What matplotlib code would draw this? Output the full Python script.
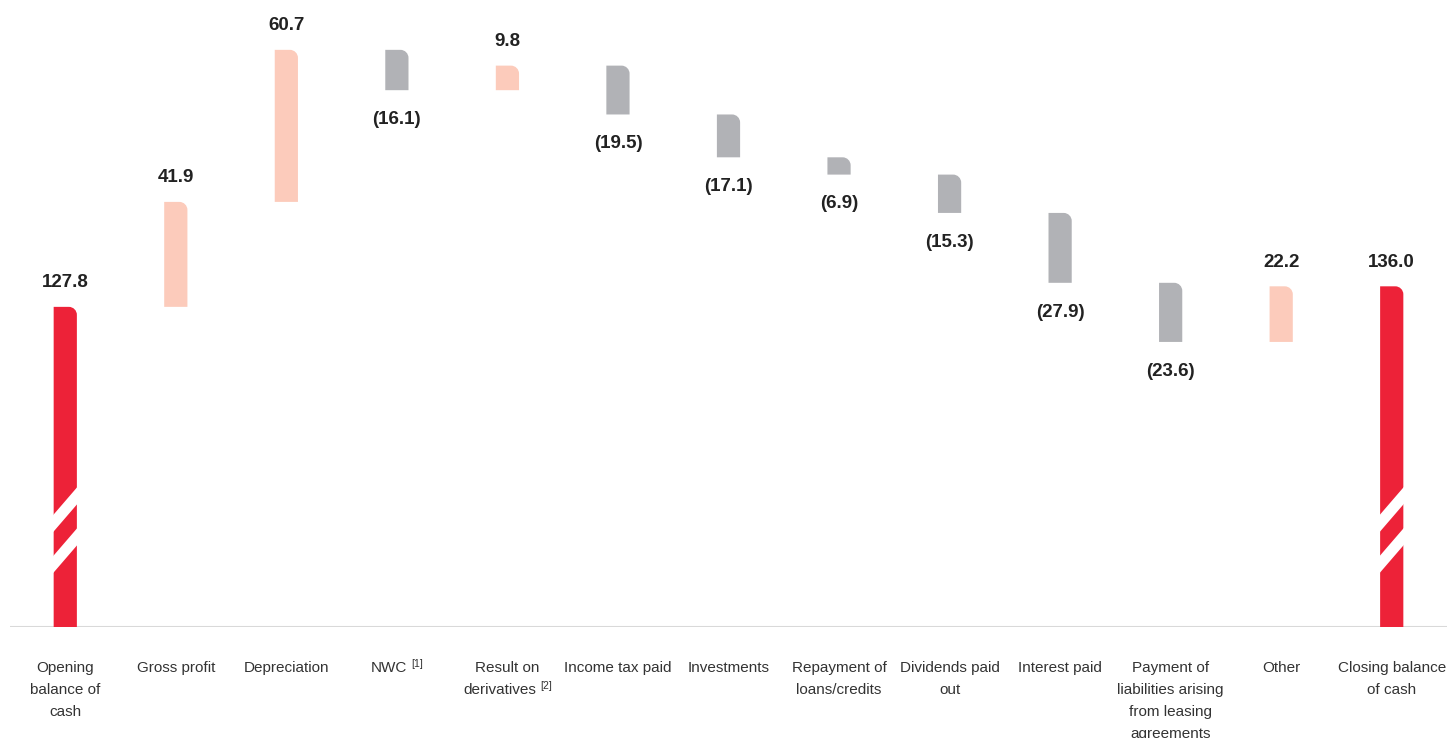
import numpy as np
import matplotlib
matplotlib.use("Agg")
import matplotlib.pyplot as plt
from matplotlib.path import Path
from matplotlib.patches import PathPatch, Polygon

plt.rcParams['font.family'] = ['Liberation Sans', 'DejaVu Sans']

# datos
categorias = ["Opening\nbalance of\ncash", "Gross profit", "Depreciation", "NWC",
              "Result on\nderivatives", "Income tax paid", "Investments",
              "Repayment of\nloans/credits", "Dividends paid\nout", "Interest paid",
              "Payment of\nliabilities arising\nfrom leasing\nagreements",
              "Other", "Closing balance\nof cash"]
notas = [None, None, None, "[1]", "[2]", None, None, None, None, None, None, None, None]
valores = [127.8, 41.9, 60.7, -16.1, 9.8, -19.5, -17.1, -6.9, -15.3, -27.9, -23.6, 22.2, 136.0]
etiquetas = ["127.8", "41.9", "60.7", "(16.1)", "9.8", "(19.5)", "(17.1)", "(6.9)",
             "(15.3)", "(27.9)", "(23.6)", "22.2", "136.0"]
es_total = [True] + [False] * 11 + [True]

ROJO = "#ED2238"
ROSA = "#FCCBBB"
GRIS = "#B1B2B6"
TEXTO = "#222222"
TEXTO_CAT = "#333333"

DPI = 100
fig = plt.figure(figsize=(14.47, 7.38), dpi=DPI)
ax = fig.add_axes([10 / 1447, 111 / 738, 1437 / 1447, 627 / 738])
ax.set_xlim(-0.5, 12.5)
ax.set_ylim(0, 250.3)
ax.axis("off")
renderer = fig.canvas.get_renderer()

ancho = 0.21
radio_px = 8

def px2pt(px):
    return px * 72 / DPI

def escala():
    p0 = ax.transData.transform((0, 0))
    p1 = ax.transData.transform((1, 1))
    return p1[0] - p0[0], p1[1] - p0[1]

sx, sy = escala()
rx, ry = radio_px / sx, radio_px / sy

def barra_redondeada(x, abajo, arriba, color):
    izq, der = x - ancho / 2, x + ancho / 2
    k = 0.5523
    r_y = min(ry, (arriba - abajo))
    verts = [(izq, abajo), (der, abajo), (der, arriba - r_y),
             (der, arriba - r_y + k * r_y), (der - rx + k * rx, arriba), (der - rx, arriba),
             (izq, arriba), (izq, abajo)]
    codes = [Path.MOVETO, Path.LINETO, Path.LINETO,
             Path.CURVE4, Path.CURVE4, Path.CURVE4,
             Path.LINETO, Path.CLOSEPOLY]
    ax.add_patch(PathPatch(Path(verts, codes), facecolor=color, edgecolor="none", zorder=2))

def marcas_corte(x):
    izq, der = x - ancho / 2 - 0.01, x + ancho / 2 + 0.01
    for lo in (95, 54):
        a, b = lo / sy, (lo + 17) / sy
        d = 28 / sy
        ax.add_patch(Polygon([(izq, a - 0.3), (der, a + d + 0.3), (der, b + d + 0.3), (izq, b - 0.3)],
                             closed=True, facecolor="white", edgecolor="none", zorder=3))

def etiqueta_categoria(i, texto, nota):
    lineas = texto.split("\n")
    for j, linea in enumerate(lineas):
        dy = px2pt(-45 - 22 * j)
        kw = dict(textcoords="offset points", va="baseline", fontsize=11,
                  color=TEXTO_CAT, annotation_clip=False)
        if nota is not None and j == len(lineas) - 1:
            t = ax.annotate(linea, (i, 0), xytext=(0, dy), ha="left", **kw)
            s = ax.annotate(nota, (i, 0), xytext=(0, dy + px2pt(5)), ha="left",
                            textcoords="offset points", va="baseline", fontsize=7.5,
                            color=TEXTO_CAT, annotation_clip=False)
            w1 = t.get_window_extent(renderer).width
            w2 = s.get_window_extent(renderer).width
            gap = 4
            total = w1 + gap + w2
            t.set_position((px2pt(-total / 2), dy))
            s.set_position((px2pt(-total / 2 + w1 + gap), dy + px2pt(5)))
        else:
            ax.annotate(linea, (i, 0), xytext=(0, dy), ha="center", **kw)

acum = 0
for i, v in enumerate(valores):
    if es_total[i]:
        abajo, arriba = 0, v
        color = ROJO
        acum = v
    else:
        inicio = acum
        acum = acum + v
        abajo, arriba = min(inicio, acum), max(inicio, acum)
        color = ROSA if v > 0 else GRIS
    barra_redondeada(i, abajo, arriba, color)
    if es_total[i]:
        marcas_corte(i)
    if v > 0:
        ax.annotate(etiquetas[i], (i, arriba), xytext=(0, 14), textcoords="offset points",
                    ha="center", va="baseline", fontsize=13.5, fontweight="bold", color=TEXTO)
    else:
        ax.annotate(etiquetas[i], (i, abajo), xytext=(0, -15), textcoords="offset points",
                    ha="center", va="top", fontsize=13.5, fontweight="bold", color=TEXTO)
    etiqueta_categoria(i, categorias[i], notas[i])

ax.axhline(0, color="#D9D9D9", linewidth=1.5, zorder=1)

fig.savefig("out.png", dpi=DPI)
